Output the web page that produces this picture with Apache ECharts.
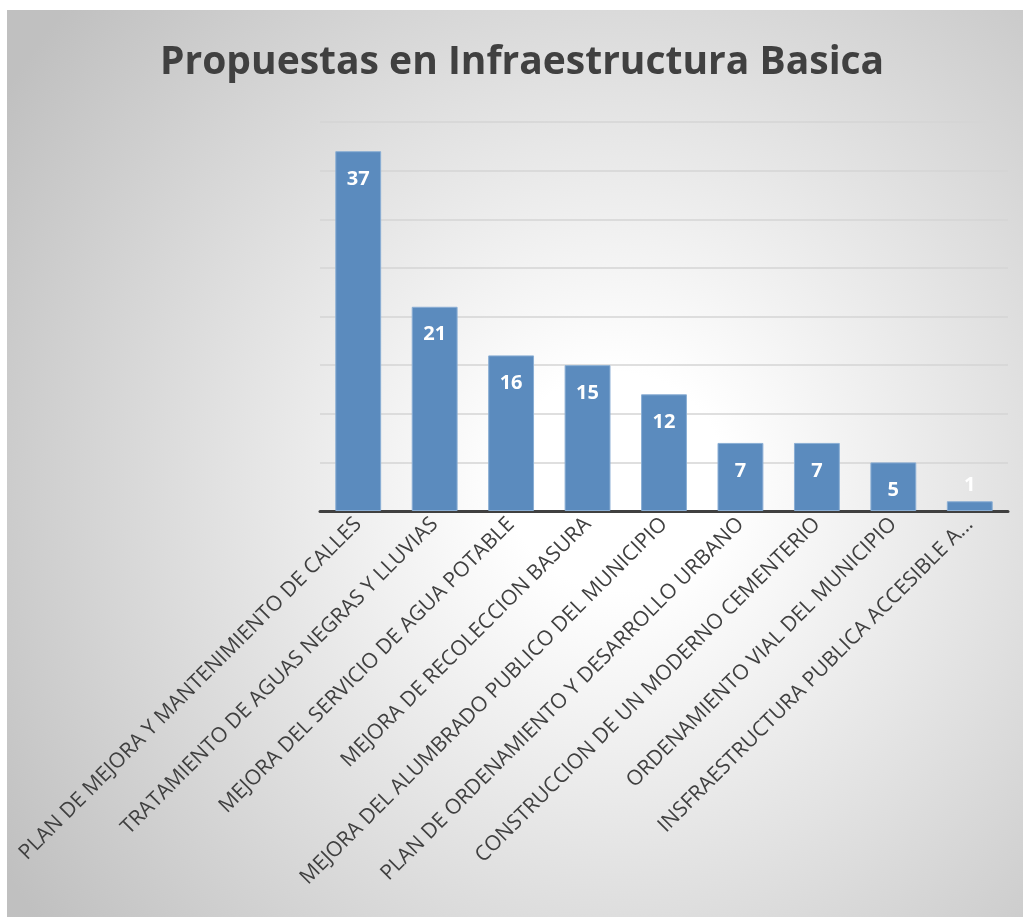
<!DOCTYPE html>
<html>
<head>
<meta charset="utf-8">
<script src="https://cdn.jsdelivr.net/npm/echarts@6/dist/echarts.min.js"></script>
<style>
  html, body { margin: 0; padding: 0; background: #ffffff; }
  #chart { position: absolute; left: 7px; top: 10px; width: 1016px; height: 907px; }
</style>
</head>
<body>
<div id="chart"></div>
<script>
var categories = [
  'PLAN DE MEJORA Y MANTENIMIENTO DE CALLES',
  'TRATAMIENTO DE AGUAS NEGRAS Y LLUVIAS',
  'MEJORA DEL SERVICIO DE AGUA POTABLE',
  'MEJORA DE RECOLECCION BASURA',
  'MEJORA DEL ALUMBRADO PUBLICO DEL MUNICIPIO',
  'PLAN DE ORDENAMIENTO Y DESARROLLO URBANO',
  'CONSTRUCCION DE UN MODERNO CEMENTERIO',
  'ORDENAMIENTO VIAL DEL MUNICIPIO',
  'INSFRAESTRUCTURA PUBLICA ACCESIBLE A...'
];
var values = [37, 21, 16, 15, 12, 7, 7, 5, 1];

var chart = echarts.init(document.getElementById('chart'));

// the smallest bar cannot hold its label, so it goes above
var seriesData = values.map(function (v) {
  if (v < 3) {
    return { value: v, label: { position: 'top', distance: 6 } };
  }
  return v;
});

chart.setOption({
  backgroundColor: {
    type: 'radial', x: 0.6, y: 0.52, r: 0.8,
    colorStops: [
      { offset: 0, color: '#ffffff' },
      { offset: 0.15, color: '#ffffff' },
      { offset: 1, color: '#c0c0c0' }
    ]
  },
  title: {
    text: 'Propuestas en Infraestructura Basica',
    left: 148,
    top: 28,
    textStyle: {
      fontFamily: 'Open Sans',
      fontWeight: 'bold',
      fontSize: 39,
      color: '#404040'
    }
  },
  grid: {
    left: 313,
    right: 15,
    top: 112,
    bottom: 406,
    containLabel: false
  },
  xAxis: {
    type: 'category',
    data: categories,
    axisLine: { lineStyle: { color: '#404040', width: 3 } },
    axisTick: { show: false },
    axisLabel: {
      rotate: 45,
      interval: 0,
      margin: 10,
      fontFamily: 'Open Sans',
      fontSize: 21,
      color: '#404040'
    }
  },
  yAxis: {
    type: 'value',
    min: 0,
    max: 40,
    interval: 5,
    axisLabel: { show: false },
    axisLine: { show: false },
    axisTick: { show: false },
    splitLine: { lineStyle: { color: '#d4d4d4', width: 1.5 } }
  },
  series: [{
    type: 'bar',
    data: seriesData,
    barWidth: '60%',
    itemStyle: {
      color: '#5b8bbe',
      borderColor: '#8aaed4',
      borderWidth: 1
    },
    label: {
      show: true,
      position: 'insideTop',
      distance: 18,
      fontFamily: 'Open Sans',
      fontWeight: 'bold',
      fontSize: 20,
      color: '#ffffff'
    }
  }]
});
</script>
</body>
</html>
